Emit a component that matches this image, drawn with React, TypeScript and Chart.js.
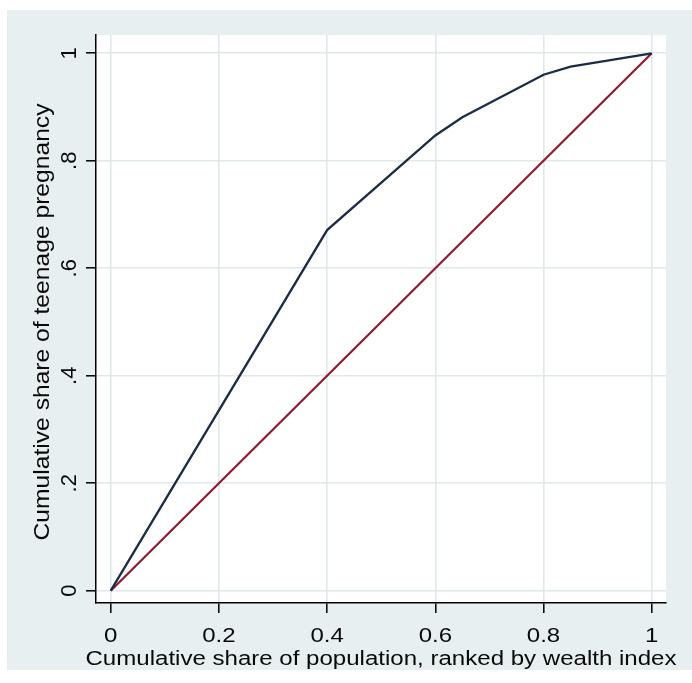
import React, { useEffect, useRef } from "react";
import { Chart, registerables } from "chart.js";

Chart.register(...registerables);

// Data
const populationShare = [0, 0.4, 0.6, 0.65, 0.8, 0.85, 1];
const pregnancyShare = [0, 0.671, 0.847, 0.881, 0.96, 0.975, 1];
const equalityX = [0, 1];
const equalityY = [0, 1];

const xTickValues = [0, 0.2, 0.4, 0.6, 0.8, 1];
const xTickLabels = ["0", "0.2", "0.4", "0.6", "0.8", "1"];
const yTickValues = [0, 0.2, 0.4, 0.6, 0.8, 1];
const yTickLabels = ["0", ".2", ".4", ".6", ".8", "1"];

const xTitle = "Cumulative share of population, ranked by wealth index";
const yTitle = "Cumulative share of teenage pregnancy";

const FONT = '"Liberation Sans", Arial, sans-serif';
const PANEL = "#e8eff1";
const GRID = "#dfe8ea";
const NAVY = "#1c2c45";
const MAROON = "#8e1b2e";

const decorPlugin = {
  id: "decor",
  beforeDraw(chart: any) {
    const { ctx, chartArea } = chart;
    ctx.save();
    ctx.fillStyle = "#ffffff";
    ctx.fillRect(0, 0, chart.width, chart.height);
    ctx.fillStyle = PANEL;
    ctx.fillRect(7, 10, chart.width - 7, 660);
    ctx.fillStyle = "#ffffff";
    ctx.fillRect(
      chartArea.left,
      chartArea.top,
      chartArea.right - chartArea.left,
      chartArea.bottom - chartArea.top
    );
    ctx.restore();
  },
  afterDraw(chart: any) {
    const { ctx, chartArea } = chart;
    const xs = chart.scales.x;
    const ys = chart.scales.y;
    ctx.save();
    ctx.fillStyle = "#0a0a0a";

    // x tick labels
    ctx.font = `20px ${FONT}`;
    ctx.textAlign = "center";
    ctx.textBaseline = "alphabetic";
    xTickValues.forEach((v, i) => {
      const px = xs.getPixelForValue(v);
      ctx.save();
      ctx.translate(px, 642);
      ctx.scale(1.2, 1);
      ctx.fillText(xTickLabels[i], 0, 0);
      ctx.restore();
    });

    // y tick labels (rotated)
    ctx.font = `22px ${FONT}`;
    yTickValues.forEach((v, i) => {
      const py = ys.getPixelForValue(v);
      ctx.save();
      ctx.translate(76, py);
      ctx.rotate(-Math.PI / 2);
      ctx.fillText(yTickLabels[i], 0, 0);
      ctx.restore();
    });

    // x title
    ctx.font = `20px ${FONT}`;
    const cx = (chartArea.left + chartArea.right) / 2;
    const wx = ctx.measureText(xTitle).width;
    ctx.save();
    ctx.translate(cx, 665);
    ctx.scale(591 / wx, 1);
    ctx.fillText(xTitle, 0, 0);
    ctx.restore();

    // y title
    ctx.font = `22px ${FONT}`;
    const wy = ctx.measureText(yTitle).width;
    const cy = (ys.getPixelForValue(0) + ys.getPixelForValue(1)) / 2;
    ctx.save();
    ctx.translate(49, cy);
    ctx.rotate(-Math.PI / 2);
    ctx.scale(437 / wy, 1);
    ctx.fillText(yTitle, 0, 0);
    ctx.restore();

    ctx.restore();
  },
};

export default function App() {
  const ref = useRef<HTMLCanvasElement | null>(null);

  useEffect(() => {
    if (!ref.current) return;
    const chart = new Chart(ref.current, {
      type: "scatter",
      data: {
        datasets: [
          {
            label: "Concentration curve",
            data: populationShare.map((x, i) => ({ x, y: pregnancyShare[i] })),
            showLine: true,
            borderColor: NAVY,
            borderWidth: 2.3,
            pointRadius: 0,
            tension: 0,
          },
          {
            label: "Line of equality",
            data: equalityX.map((x, i) => ({ x, y: equalityY[i] })),
            showLine: true,
            borderColor: MAROON,
            borderWidth: 2.2,
            pointRadius: 0,
            tension: 0,
          },
        ],
      },
      options: {
        responsive: false,
        animation: false,
        layout: { padding: { left: 86, top: 35, right: 26, bottom: 70 } },
        plugins: {
          legend: { display: false },
          tooltip: { enabled: false },
        },
        scales: {
          x: {
            type: "linear",
            min: -0.0272,
            max: 1.0264,
            afterBuildTicks: (scale: any) => {
              scale.ticks = xTickValues.map((value) => ({ value }));
            },
            ticks: { display: false },
            grid: {
              color: GRID,
              lineWidth: 1.6,
              drawTicks: true,
              tickLength: 10,
              tickColor: "#000000",
              tickWidth: 1.5,
            },
            border: { display: true, color: "#000000", width: 1.5 },
          },
          y: {
            type: "linear",
            min: -0.0229,
            max: 1.034,
            afterBuildTicks: (scale: any) => {
              scale.ticks = yTickValues.map((value) => ({ value }));
            },
            ticks: { display: false },
            grid: {
              color: GRID,
              lineWidth: 1.6,
              drawTicks: true,
              tickLength: 10,
              tickColor: "#000000",
              tickWidth: 1.5,
            },
            border: { display: true, color: "#000000", width: 1.5 },
          },
        },
      },
      plugins: [decorPlugin],
    });
    return () => chart.destroy();
  }, []);

  return (
    <div style={{ position: "fixed", left: 0, top: 0, width: 692, height: 683 }}>
      <canvas ref={ref} width={692} height={683} style={{ display: "block" }} />
    </div>
  );
}
